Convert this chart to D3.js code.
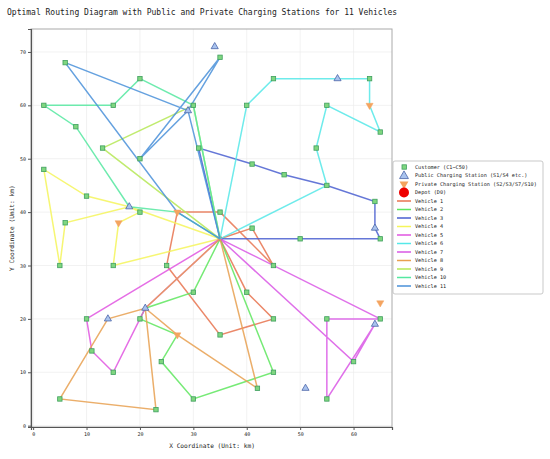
<!DOCTYPE html>
<html>
<head>
<meta charset="UTF-8">
<title>Optimal Routing Diagram</title>
<script src="https://cdn.jsdelivr.net/npm/d3@7"></script>
<style>
  body { margin: 0; background: #fff; }
  svg text { font-family: "DejaVu Sans Mono", "Liberation Mono", monospace; fill: #222; }
  .grid line { stroke: #ececec; stroke-width: 0.7; }
  .axis path, .axis line { stroke: #555; }
  .route { fill: none; stroke-width: 1.5; stroke-opacity: 0.85; }
</style>
</head>
<body>
<svg width="550" height="459"></svg>
<script>

// node positions (km)
var depot = [35, 35];
var customers = [
  [6,68],[20,65],[2,60],[15,60],[30,60],[8,56],[13,52],[20,50],[31,52],[35,69],
  [45,65],[40,60],[63,65],[55,60],[65,55],[53,52],[41,49],[47,47],[55,45],[64,42],
  [65,35],[50,35],[35,40],[41,37],[45,30],[2,48],[10,43],[20,40],[6,38],[5,30],
  [15,30],[25,30],[30,25],[40,25],[10,20],[20,20],[45,20],[35,17],[11,14],[24,12],
  [15,10],[45,10],[5,5],[30,5],[23,3],[42,7],[55,20],[65,20],[60,12],[55,5]
];
var publicStations = [[34,71],[57,65],[29,59],[18,41],[64,37],[21,22],[14,20],[64,19],[51,7]];
var privateStations = [[63,60],[16,38],[27,40],[27,17],[65,23]];

var vehicleNames = ["Vehicle 1","Vehicle 2","Vehicle 3","Vehicle 4","Vehicle 5","Vehicle 6",
                    "Vehicle 7","Vehicle 8","Vehicle 9","Vehicle 10","Vehicle 11"];
var vehicleColors = ["#e8734f","#5ee65e","#4a5fd0","#f5f55a","#e055e0","#55e8e8",
                     "#d957e5","#e8a050","#b5e855","#55e8a0","#4a90d9"];
var routes = [
  [[35,35],[41,37],[45,30],[35,40],[27,40],[25,30],[35,17],[45,20],[40,25],[35,35]],
  [[35,35],[45,10],[30,5],[24,12],[27,17],[20,20],[21,22],[30,25],[35,35]],
  [[35,35],[50,35],[65,35],[64,37],[64,42],[55,45],[47,47],[41,49],[31,52],[35,35]],
  [[35,35],[18,41],[10,43],[2,48],[5,30],[6,38],[18,41],[20,40],[16,38],[15,30],[35,35]],
  [[35,35],[10,20],[11,14],[15,10],[20,20],[21,22],[35,35]],
  [[35,35],[40,60],[45,65],[57,65],[63,65],[63,60],[65,55],[55,60],[53,52],[55,45],[35,35]],
  [[35,35],[65,20],[55,20],[55,5],[64,19],[60,12],[35,35]],
  [[35,35],[42,7],[27,17],[21,22],[14,20],[5,5],[23,3],[21,22],[35,35]],
  [[35,35],[13,52],[30,60],[35,35]],
  [[35,35],[30,60],[20,65],[15,60],[2,60],[8,56],[18,41],[27,40],[35,35]],
  [[35,35],[27,40],[6,68],[29,59],[35,69],[20,50],[29,59],[35,35]]
];

var xTicks = [0,10,20,30,40,50,60];
var yTicks = [0,10,20,30,40,50,60,70];

var svg = d3.select("svg"),
    margin = {top: 29, right: 158, bottom: 32, left: 31},
    width = +svg.attr("width") - margin.left - margin.right,
    height = +svg.attr("height") - margin.top - margin.bottom;

var x = d3.scaleLinear().domain([-0.4, 67.2]).range([margin.left, margin.left + width]),
    y = d3.scaleLinear().domain([-0.25, 74.3]).range([margin.top + height, margin.top]);

svg.append("text")
    .attr("x", 7).attr("y", 15)
    .style("font-size", "8px")
    .text("Optimal Routing Diagram with Public and Private Charging Stations for 11 Vehicles");

// grid
var grid = svg.append("g").attr("class", "grid");
grid.selectAll(".gx").data(xTicks).enter().append("line")
    .attr("x1", function(d) { return x(d); }).attr("x2", function(d) { return x(d); })
    .attr("y1", margin.top).attr("y2", margin.top + height);
grid.selectAll(".gy").data(yTicks).enter().append("line")
    .attr("y1", function(d) { return y(d); }).attr("y2", function(d) { return y(d); })
    .attr("x1", margin.left).attr("x2", margin.left + width);

// frame
svg.append("rect")
    .attr("x", margin.left).attr("y", margin.top)
    .attr("width", width).attr("height", height)
    .attr("fill", "none").attr("stroke", "#aaa").attr("stroke-width", 1);

var xAxis = svg.append("g")
    .attr("class", "axis")
    .attr("transform", "translate(0," + (margin.top + height) + ")")
    .call(d3.axisBottom(x).tickValues(xTicks).tickSize(3).tickPadding(2));
var yAxis = svg.append("g")
    .attr("class", "axis")
    .attr("transform", "translate(" + margin.left + ",0)")
    .call(d3.axisLeft(y).tickValues(yTicks).tickSize(3).tickPadding(2));
svg.selectAll(".axis text").style("font-size", "5px").style("font-family", "DejaVu Sans Mono");
svg.selectAll(".axis .domain").attr("stroke", "#666").attr("stroke-width", 1.2);

svg.append("text")
    .attr("x", x(33.5)).attr("y", 448)
    .attr("text-anchor", "middle")
    .style("font-size", "6.2px")
    .text("X Coordinate (Unit: km)");
svg.append("text")
    .attr("transform", "translate(14," + y(37) + ") rotate(-90)")
    .attr("text-anchor", "middle")
    .style("font-size", "6.2px")
    .text("Y Coordinate (Unit: km)");

// depot under the routes
svg.append("circle")
    .attr("cx", x(depot[0])).attr("cy", y(depot[1])).attr("r", 2.5)
    .attr("fill", "#e00");

var line = d3.line().x(function(d) { return x(d[0]); }).y(function(d) { return y(d[1]); });
svg.selectAll(".route").data(routes).enter().append("path")
    .attr("class", "route")
    .attr("d", line)
    .attr("stroke", function(d, i) { return vehicleColors[i]; });

// markers
var sq = 4.4;
svg.selectAll(".cust").data(customers).enter().append("rect")
    .attr("x", function(d) { return x(d[0]) - sq / 2; })
    .attr("y", function(d) { return y(d[1]) - sq / 2; })
    .attr("width", sq).attr("height", sq)
    .attr("fill", "#7fd67f").attr("stroke", "#3f9f5f").attr("stroke-width", 0.8);

var tri = d3.symbol().type(d3.symbolTriangle).size(22);
svg.selectAll(".pub").data(publicStations).enter().append("path")
    .attr("d", tri)
    .attr("transform", function(d) { return "translate(" + x(d[0]) + "," + y(d[1]) + ")"; })
    .attr("fill", "#a9c3ee").attr("stroke", "#4a64a8").attr("stroke-width", 0.8);
svg.selectAll(".priv").data(privateStations).enter().append("path")
    .attr("d", tri)
    .attr("transform", function(d) { return "translate(" + x(d[0]) + "," + y(d[1]) + ") rotate(180)"; })
    .attr("fill", "#f4a460").attr("stroke", "#f4a460").attr("stroke-width", 0.5);

// legend
var lg = svg.append("g").attr("transform", "translate(393,161)");
lg.append("rect").attr("width", 150).attr("height", 133).attr("rx", 2)
    .attr("fill", "#fff").attr("stroke", "#bbb").attr("stroke-width", 0.8);
var rowY = function(i) { return 6 + i * 8.5; };
var legendLabels = ["Customer (C1~C50)", "Public Charging Station (S1/S4 etc.)",
                    "Private Charging Station (S2/S3/S7/S10)", "Depot (D0)"].concat(vehicleNames);
lg.selectAll(".lt").data(legendLabels).enter().append("text")
    .attr("x", 22).attr("y", function(d, i) { return rowY(i) + 1.8; })
    .style("font-size", "5.2px")
    .text(function(d) { return d; });
lg.append("rect").attr("x", 9).attr("y", rowY(0) - 2.2).attr("width", 4.4).attr("height", 4.4)
    .attr("fill", "#7fd67f").attr("stroke", "#3f9f5f").attr("stroke-width", 0.8);
lg.append("path").attr("d", d3.symbol().type(d3.symbolTriangle).size(34))
    .attr("transform", "translate(11," + (rowY(1) + 0.5) + ")")
    .attr("fill", "#a9c3ee").attr("stroke", "#4a64a8").attr("stroke-width", 0.8);
lg.append("path").attr("d", d3.symbol().type(d3.symbolTriangle).size(34))
    .attr("transform", "translate(11," + rowY(2) + ") rotate(180)")
    .attr("fill", "#f4a460");
lg.append("circle").attr("cx", 11).attr("cy", rowY(3)).attr("r", 5).attr("fill", "#e00");
lg.selectAll(".ll").data(vehicleColors).enter().append("line")
    .attr("x1", 4).attr("x2", 18)
    .attr("y1", function(d, i) { return rowY(i + 4); })
    .attr("y2", function(d, i) { return rowY(i + 4); })
    .attr("stroke", function(d) { return d; }).attr("stroke-width", 1.5);

</script>
</body>
</html>
